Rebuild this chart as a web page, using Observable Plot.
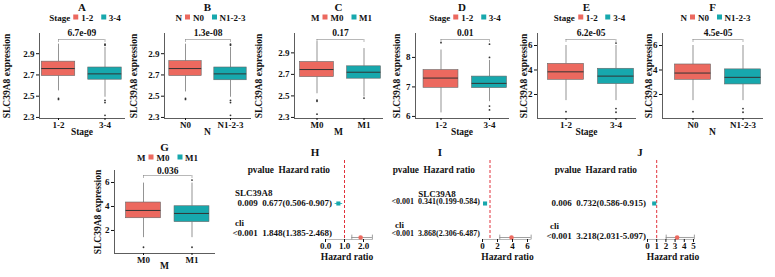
<!DOCTYPE html>
<html><head><meta charset="utf-8">
<script src="https://cdn.jsdelivr.net/npm/d3@7"></script>
<script src="https://cdn.jsdelivr.net/npm/@observablehq/plot@0.6"></script>
<style>
body{margin:0;background:#fff}
#root{position:relative;width:775px;height:277px;overflow:hidden;background:#fff;font-family:'Liberation Serif','Times New Roman',serif;font-weight:bold;color:#111}
.t{position:absolute;white-space:pre;line-height:1}
#root svg{position:absolute}
.key{display:inline-block;width:5px;height:5px;margin:0 3px 0 3px;vertical-align:middle;position:relative;top:-1px}
</style></head><body><div id="root"></div><script>
const FONT = "'Liberation Serif','Times New Roman',serif";
const RED = "#EC695F", TEAL = "#17A8AD";

// ---------- DATA ----------
const stageGroups = ["1-2", "3-4"];
const nGroups = ["N0", "N1-2-3"];
const mGroups = ["M0", "M1"];
const yLabel = "SLC39A8 expression";

// box stats per group: [lower whisker, Q1, median, Q3, upper whisker]
const boxA = [[2.55, 2.69, 2.76, 2.825, 2.99], [2.49, 2.655, 2.71, 2.77, 2.96]];
const outA = [[2.48, 2.47], [2.99, 2.98, 2.46, 2.44, 2.32]];
const boxB = [[2.54, 2.69, 2.76, 2.83, 2.99], [2.49, 2.65, 2.71, 2.77, 2.96]];
const outB = [[2.48, 2.47], [2.99, 2.98, 2.46, 2.44, 2.32]];
const boxC = [[2.52, 2.675, 2.745, 2.815, 3.0], [2.49, 2.66, 2.72, 2.775, 2.94]];
const outC = [[2.46, 2.45, 2.33], [2.48]];
const boxD = [[6.12, 6.97, 7.3, 7.57, 8.25], [6.5, 6.96, 7.12, 7.35, 7.9]];
const outD = [[8.5], [8.0, 8.45, 6.35, 6.22]];
const boxE = [[1.5, 3.2, 3.85, 4.5, 6.0], [1.5, 2.85, 3.5, 4.1, 6.0]];
const outE = [[0.6], [6.2, 0.55, 0.85]];
const boxF = [[1.5, 3.2, 3.75, 4.45, 6.0], [1.5, 2.82, 3.4, 4.05, 6.0]];
const outF = [[0.6], [0.55, 0.85]];
const boxG = [[1.4, 3.02, 3.67, 4.33, 5.95], [1.4, 2.7, 3.42, 4.02, 5.95]];
const outG = [[0.6], [6.2, 0.6]];
const pValues = ["6.7e-09", "1.3e-08", "0.17", "0.01", "6.2e-05", "4.5e-05", "0.036"];
const ticksLow = [2.3, 2.5, 2.7, 2.9];
const ticksD = [6, 7, 8];
const ticksWide = [2, 4, 6];

// forest data
const forestGenes = ["SLC39A8", "cli"];
const pH = ["0.009", "<0.001"], hrH = [0.677, 1.848], loH = [0.506, 1.385], hiH = [0.907, 2.468];
const pI = ["<0.001", "<0.001"], hrI = [0.341, 3.868], loI = [0.199, 2.306], hiI = [0.584, 6.487];
const pJ = ["0.006", "<0.001"], hrJ = [0.732, 3.218], loJ = [0.586, 2.031], hiJ = [0.915, 5.097];
const ticksH = [0, 1, 2], ticksI = [0, 2, 4, 6], ticksJ = [0, 1, 2, 3, 4, 5];

// ---------- HELPERS ----------
const root = document.getElementById("root");
function txt(s, x, y, size, anchor = "middle", rot = false) {
  const d = document.createElement("div");
  d.className = "t";
  d.style.left = x + "px"; d.style.top = y + "px"; d.style.fontSize = size + "px";
  const tx = anchor === "start" ? "0" : anchor === "end" ? "-100%" : "-50%";
  d.style.transform = `translate(${tx},-50%)` + (rot ? " rotate(-90deg)" : "");
  d.textContent = s;
  root.appendChild(d);
  return d;
}
function legend(title, groups, x, y) {
  const d = txt("", x, y, 9);
  d.innerHTML = `${title}<span class="key" style="background:${RED}"></span>${groups[0]}&nbsp;&nbsp;<span class="key" style="background:${TEAL}"></span>${groups[1]}`;
}
function place(svg, left, top) {
  svg.style.left = left + "px"; svg.style.top = top + "px";
  root.appendChild(svg);
}

// ---------- BOX PANELS ----------
const row1 = {top: 33, bottom: 118, titleY: 7, legendY: 18, xlabY: 133, bracketPx: 6, pGap: 4};
const row2 = {top: 170, bottom: 253, titleY: 147, legendY: 158, xlabY: 267, bracketPx: 5, pGap: 2};
const fmt1 = d3.format(".1f"), fmt0 = d3.format("d");
const panels = [
  {key: "A", groups: stageGroups, v: "Stage", box: boxA, out: outA, p: pValues[0], yTicks: ticksLow, yFmt: fmt1, yDom: [2.29, 3.09], ...row1, ytitleX: 8, axisX: 39, c1: 58, c2: 104.5, endX: 125},
  {key: "B", groups: nGroups, v: "N", box: boxB, out: outB, p: pValues[1], yTicks: ticksLow, yFmt: fmt1, yDom: [2.29, 3.09], ...row1, ytitleX: 135, axisX: 164, c1: 185, c2: 230, endX: 251},
  {key: "C", groups: mGroups, v: "M", box: boxC, out: outC, p: pValues[2], yTicks: ticksLow, yFmt: fmt1, yDom: [2.29, 3.08], ...row1, ytitleX: 260, axisX: 294, c1: 316.5, c2: 363.5, endX: 383},
  {key: "D", groups: stageGroups, v: "Stage", box: boxD, out: outD, p: pValues[3], yTicks: ticksD, yFmt: fmt0, yDom: [5.93, 8.81], ...row1, ytitleX: 398, axisX: 415, c1: 440.5, c2: 489, endX: 509},
  {key: "E", groups: stageGroups, v: "Stage", box: boxE, out: outE, p: pValues[4], yTicks: ticksWide, yFmt: fmt0, yDom: [0.04, 6.98], ...row1, ytitleX: 525, axisX: 537, c1: 565.5, c2: 615.5, endX: 636},
  {key: "F", groups: nGroups, v: "N", box: boxF, out: outF, p: pValues[5], yTicks: ticksWide, yFmt: fmt0, yDom: [0.04, 6.98], ...row1, ytitleX: 650, axisX: 662, c1: 692.5, c2: 742.5, endX: 763},
  {key: "G", groups: mGroups, v: "M", box: boxG, out: outG, p: pValues[6], yTicks: ticksWide, yFmt: fmt0, yDom: [0.08, 7.0], ...row2, ytitleX: 99, axisX: 114, c1: 143, c2: 191.5, endX: 215}
];

function boxPanel(c) {
  const svgLeft = c.ytitleX - 8;
  const mL = c.axisX - svgLeft, mR = 3, mT = 30, mB = 16;
  const ph = c.bottom - c.top;
  const step = c.c2 - c.c1;
  const xDom = [1 - (c.c1 - c.axisX) / step, 2 + (c.endX - c.c2) / step];
  const rows = c.groups.map((g, i) => ({g, x: i + 1, lo: c.box[i][0], q1: c.box[i][1], med: c.box[i][2], q3: c.box[i][3], hi: c.box[i][4]}));
  const outs = c.out.flatMap((arr, i) => arr.map(v => ({x: i + 1, v})));
  const span = c.yDom[1] - c.yDom[0];
  const yB = c.yDom[1] - c.bracketPx / ph * span, tip = 3 / ph * span;
  const hw = 0.36;
  const svg = Plot.plot({
    width: c.endX - svgLeft + mR, height: mT + ph + mB,
    marginLeft: mL, marginRight: mR, marginTop: mT, marginBottom: mB,
    style: {fontFamily: FONT, fontSize: "9px", fontWeight: "bold", background: "transparent", color: "#111", overflow: "visible"},
    x: {type: "linear", domain: xDom},
    y: {domain: c.yDom},
    color: {domain: c.groups, range: [RED, TEAL]},
    marks: [
      Plot.ruleX(rows, {x: "x", y1: "q3", y2: "hi", stroke: "#666", strokeWidth: 0.7}),
      Plot.ruleX(rows, {x: "x", y1: "lo", y2: "q1", stroke: "#666", strokeWidth: 0.7}),
      Plot.rect(rows, {x1: d => d.x - hw, x2: d => d.x + hw, y1: "q1", y2: "q3", fill: "g", stroke: "#666", strokeWidth: 0.6}),
      Plot.ruleY(rows, {y: "med", x1: d => d.x - hw, x2: d => d.x + hw, stroke: "#333", strokeWidth: 1}),
      Plot.dot(outs, {x: "x", y: "v", r: 0.9, fill: "#333", stroke: null}),
      Plot.ruleY([yB], {x1: 1, x2: 2, stroke: "#888", strokeWidth: 0.6}),
      Plot.ruleX([1, 2], {x: d => d, y1: yB, y2: yB - tip, stroke: "#888", strokeWidth: 0.6}),
      Plot.text([c.p], {x: 1.5, y: yB, text: d => d, lineAnchor: "bottom", dy: -c.pGap, fontSize: 9.5}),
      Plot.ruleX([xDom[0]], {stroke: "#333", strokeWidth: 0.8}),
      Plot.ruleY([c.yDom[0]], {stroke: "#333", strokeWidth: 0.8}),
      Plot.axisY({ticks: c.yTicks, tickFormat: c.yFmt, tickSize: 3, tickPadding: 2, label: null}),
      Plot.axisX({ticks: [1, 2], tickFormat: i => c.groups[i - 1], tickSize: 2, tickPadding: 1, label: null})
    ]
  });
  place(svg, svgLeft, c.top - mT);
  const cx = (c.axisX + c.endX) / 2;
  txt(c.key, cx, c.titleY, 11);
  legend(c.v, c.groups, cx + 3, c.legendY);
  txt(c.v, cx, c.xlabY, 9.5);
  txt(yLabel, c.ytitleX, (c.top + c.bottom) / 2, 9.5, "middle", true);
}
panels.forEach(boxPanel);

// ---------- FOREST PANELS ----------
const fmt3 = d3.format(".3f");
const forests = [
  {key: "H", p: pH, hr: hrH, lo: loH, hi: hiH, ticks: ticksH, fmt: d3.format(".1f"), xMax: 2.5, x0: 325, ppu: 19, titleX: 315, textEnd: 332, headerEnd: 330, vSize: 9, sep: "  ",
   labels: [{s: "SLC39A8", x: 235, a: "start", y: 193}, {s: "cli", x: 235, a: "start", y: 223}], valueY: [203, 233]},
  {key: "I", p: pI, hr: hrI, lo: loI, hi: hiI, ticks: ticksI, fmt: fmt0, xMax: 6.5, x0: 482, ppu: 7.5, titleX: 440, textEnd: 480, headerEnd: 475, vSize: 8, sep: "  ",
   labels: [{s: "SLC39A8", x: 437, a: "middle", y: 194}, {s: "cli", x: 395, a: "start", y: 225}], valueY: [202, 234]},
  {key: "J", p: pJ, hr: hrJ, lo: loJ, hi: hiJ, ticks: ticksJ, fmt: fmt0, xMax: 5.1, x0: 647, ppu: 9.2, titleX: 640, textEnd: 646, headerEnd: 637, vSize: 9, sep: "  ",
   labels: [null, {s: "cli", x: 550, a: "start", y: 226}], valueY: [203, 236]}
];
function forest(c) {
  const mL = 12, mR = 12, mT = 10, mB = 22, ph = 79, top = 160;
  const yDom = [-43 / 34, 1 + 2 / 34];
  const rows = c.hr.map((h, i) => ({i, g: forestGenes[i], hr: h, lo: c.lo[i], hi: c.hi[i]}));
  const gene = rows.filter(d => d.g === "SLC39A8"), clin = rows.filter(d => d.g === "cli");
  const svg = Plot.plot({
    width: c.xMax * c.ppu + mL + mR, height: mT + ph + mB,
    marginLeft: mL, marginRight: mR, marginTop: mT, marginBottom: mB,
    style: {fontFamily: FONT, fontSize: "9px", fontWeight: "bold", background: "transparent", color: "#111", overflow: "visible"},
    x: {domain: [0, c.xMax]},
    y: {domain: yDom, reverse: true, axis: null},
    color: {domain: forestGenes, range: [TEAL, RED]},
    symbol: {domain: forestGenes, range: ["square", "circle"]},
    marks: [
      Plot.ruleY([yDom[1]], {x1: 0, x2: c.xMax, stroke: "#999", strokeWidth: 0.7}),
      Plot.ruleY(gene, {y: "i", x1: "lo", x2: "hi", stroke: TEAL, strokeWidth: 0.8}),
      Plot.ruleY(clin, {y: "i", x1: "lo", x2: "hi", stroke: "#888", strokeWidth: 0.8}),
      Plot.ruleX(clin, {x: "lo", y1: d => d.i - 0.07, y2: d => d.i + 0.07, stroke: "#888", strokeWidth: 0.8}),
      Plot.ruleX(clin, {x: "hi", y1: d => d.i - 0.07, y2: d => d.i + 0.07, stroke: "#888", strokeWidth: 0.8}),
      Plot.ruleX([1], {stroke: "#E0303A", strokeWidth: 1, strokeDasharray: "3,2"}),
      Plot.dot(rows, {x: "hr", y: "i", fill: "g", symbol: "g", r: 2.3, stroke: null}),
      Plot.axisX({ticks: c.ticks, tickFormat: c.fmt, tickSize: 3, tickPadding: 0, label: null})
    ]
  });
  place(svg, c.x0 - mL, top - mT);
  txt(c.key, c.titleX, 152, 11);
  txt("pvalue  Hazard ratio", c.headerEnd, 171, 9.3, "end");
  c.labels.forEach(l => { if (l) txt(l.s, l.x, l.y, 9, l.a); });
  rows.forEach((d, i) => txt(`${c.p[i]}${c.sep}${fmt3(d.hr)}(${fmt3(d.lo)}-${fmt3(d.hi)})`, c.textEnd, c.valueY[i], c.vSize, "end"));
  txt("Hazard ratio", c.x0 + c.ticks[c.ticks.length - 1] * c.ppu / 2 + 3, 258, 9.5);
}
forests.forEach(forest);
</script></body></html>
